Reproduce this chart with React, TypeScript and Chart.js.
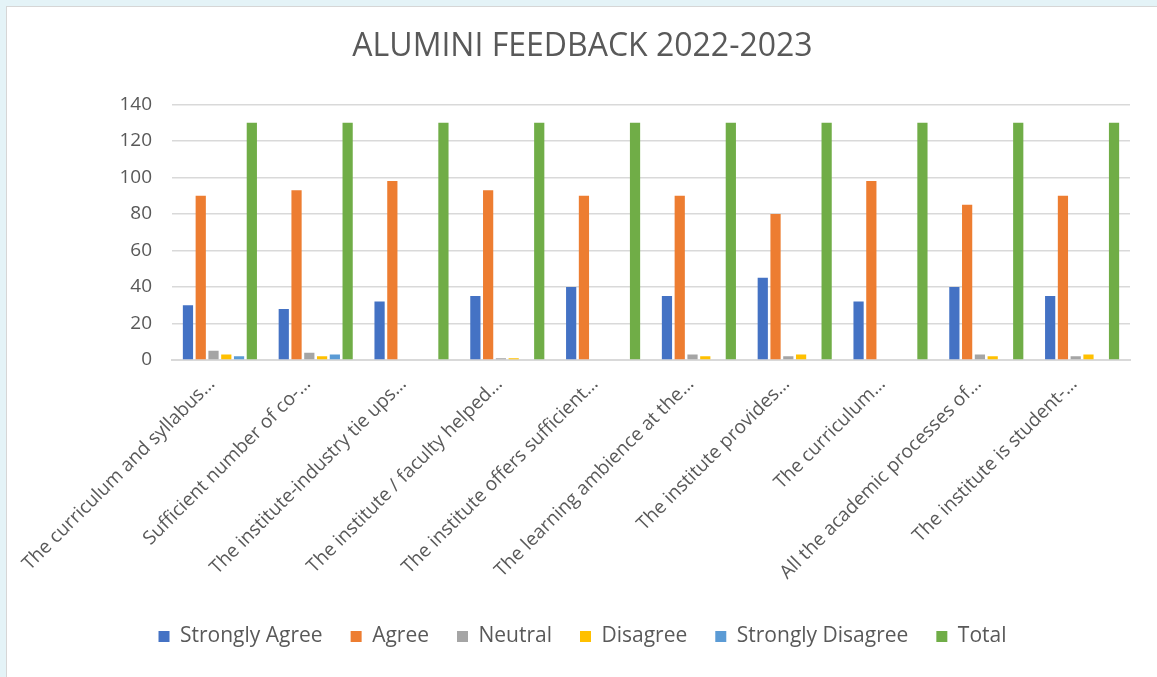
import React, { useEffect, useRef } from "react";
import { Chart, registerables } from "chart.js";

Chart.register(...registerables);

const categories = [
  "The curriculum and syllabus…",
  "Sufficient number of co-…",
  "The institute-industry tie ups…",
  "The institute / faculty helped…",
  "The institute offers sufficient…",
  "The learning ambience at the…",
  "The institute provides…",
  "The curriculum…",
  "All the academic processes of…",
  "The institute is student-…",
];

const stronglyAgree = [30, 28, 32, 35, 40, 35, 45, 32, 40, 35];
const agree = [90, 93, 98, 93, 90, 90, 80, 98, 85, 90];
const neutral = [5, 4, 0, 1, 0, 3, 2, 0, 3, 2];
const disagree = [3, 2, 0, 1, 0, 2, 3, 0, 2, 3];
const stronglyDisagree = [2, 3, 0, 0, 0, 0, 0, 0, 0, 0];
const total = [130, 130, 130, 130, 130, 130, 130, 130, 130, 130];

const yTicks = [0, 20, 40, 60, 80, 100, 120, 140];

const FONT = "'Open Sans', 'Noto Sans', sans-serif";

export default function App() {
  const ref = useRef<HTMLCanvasElement | null>(null);

  useEffect(() => {
    document.body.style.margin = "0";
    if (!ref.current) return;
    const chart = new Chart(ref.current, {
      type: "bar",
      data: {
        labels: categories,
        datasets: [
          { label: "Strongly Agree", data: stronglyAgree, backgroundColor: "#4472C4" },
          { label: "Agree", data: agree, backgroundColor: "#ED7D31" },
          { label: "Neutral", data: neutral, backgroundColor: "#A5A5A5" },
          { label: "Disagree", data: disagree, backgroundColor: "#FFC000" },
          { label: "Strongly Disagree", data: stronglyDisagree, backgroundColor: "#5B9BD5" },
          { label: "Total", data: total, backgroundColor: "#70AD47" },
        ],
      },
      options: {
        animation: false,
        responsive: false,
        maintainAspectRatio: false,
        layout: { padding: { left: 35, right: 27, top: 0, bottom: 20 } },
        datasets: { bar: { categoryPercentage: 0.8, barPercentage: 0.8 } },
        plugins: {
          title: {
            display: true,
            text: "ALUMINI FEEDBACK 2022-2023",
            color: "#595959",
            font: { family: FONT, size: 32, weight: "normal" },
            padding: { top: 28, bottom: 38 },
          },
          legend: {
            position: "bottom",
            labels: {
              color: "#595959",
              font: { family: FONT, size: 21 },
              boxWidth: 11,
              boxHeight: 11,
              padding: 28,
            },
          },
          tooltip: { enabled: false },
        },
        scales: {
          x: {
            grid: { display: false },
            border: { color: "#d9d9d9", width: 2 },
            afterFit: (axis: any) => {
              axis.height = 238;
            },
            ticks: {
              color: "#595959",
              font: { family: FONT, size: 19 },
              maxRotation: 45,
              minRotation: 45,
              padding: 5,
              labelOffset: -8,
              autoSkip: false,
            },
          },
          y: {
            min: 0,
            max: 140,
            afterBuildTicks: (axis: any) => {
              axis.ticks = yTicks.map((v) => ({ value: v }));
            },
            afterFit: (axis: any) => {
              axis.width = 137;
            },
            grid: { color: "#d9d9d9", lineWidth: 1.5, drawTicks: false },
            border: { display: false },
            ticks: {
              color: "#595959",
              font: { family: FONT, size: 19 },
              padding: 20,
            },
          },
        },
      },
    });
    return () => chart.destroy();
  }, []);

  return (
    <div style={{ position: "relative", width: 1157, height: 677, background: "#e4f3f7", overflow: "hidden" }}>
      <div
        style={{
          position: "absolute",
          left: 6,
          top: 6,
          width: 1160,
          height: 680,
          background: "#ffffff",
          borderLeft: "1px solid #d6d6d6",
          borderTop: "1px solid #d6d6d6",
        }}
      />
      <canvas ref={ref} width={1157} height={677} style={{ position: "absolute", left: 0, top: 0 }} />
    </div>
  );
}
